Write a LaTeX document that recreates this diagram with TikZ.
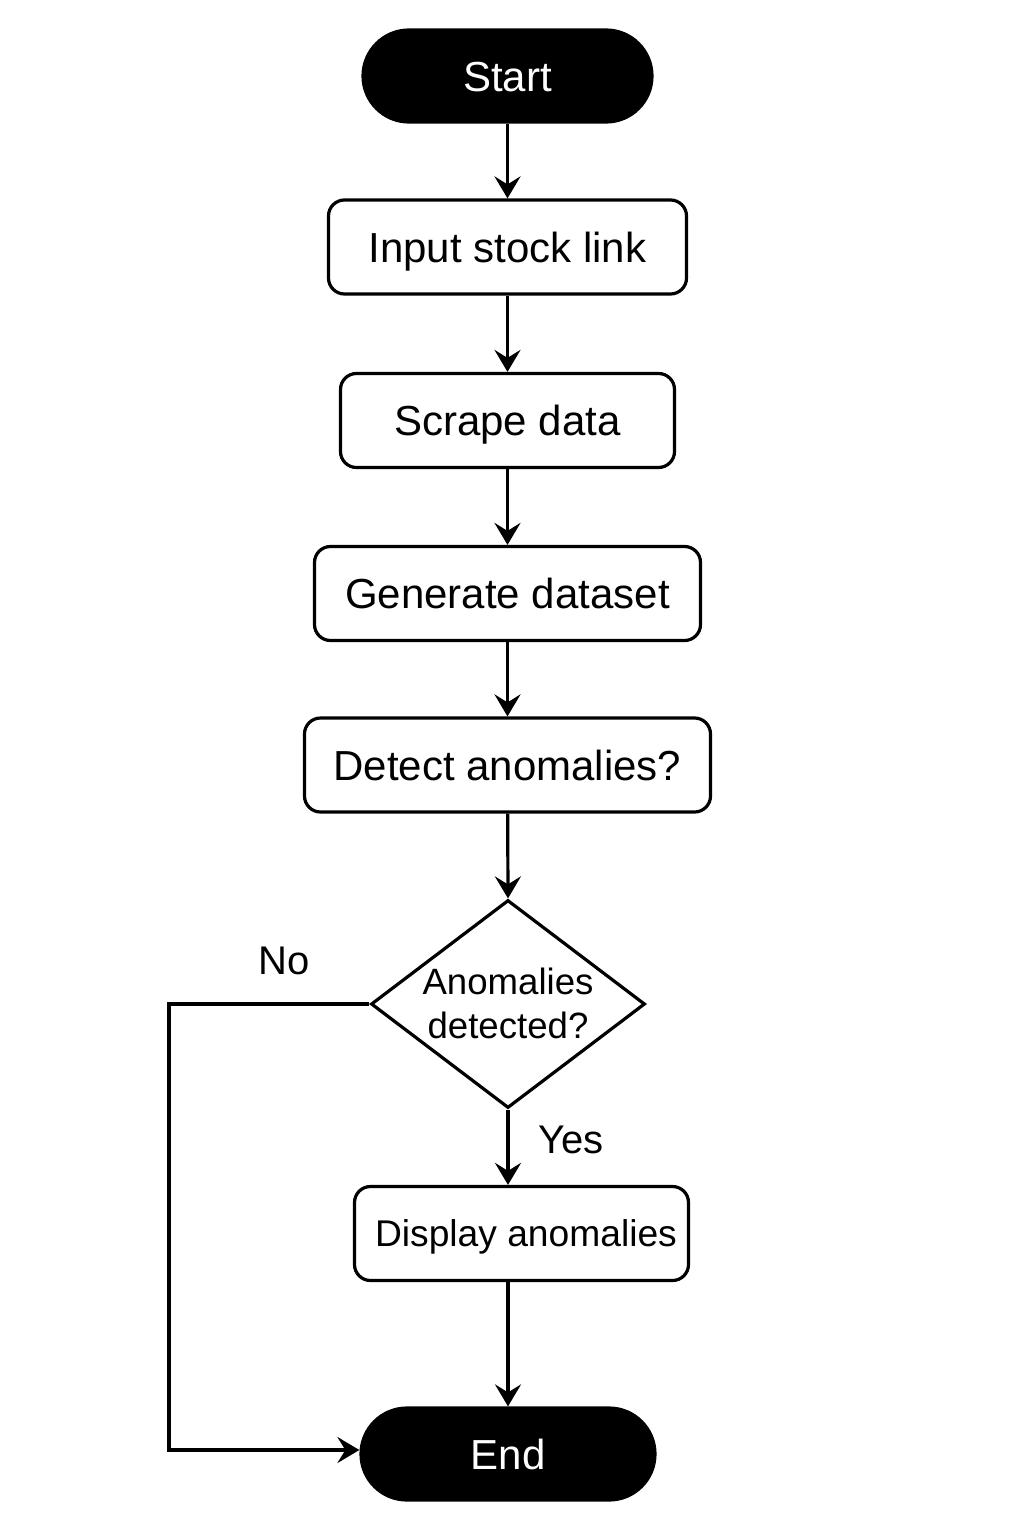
\documentclass[tikz,border=0pt]{standalone}
\usepackage{fontspec}
\setmainfont{Liberation Sans}
\usetikzlibrary{arrows.meta,shapes.geometric}
\begin{document}
\begin{tikzpicture}[x=0.5pt,y=-0.5pt,
  every node/.style={font=\fontsize{21pt}{25pt}\selectfont},
  terminal/.style={draw=black,fill=black,text=white,line width=1.6pt,rounded corners=23pt,minimum height=46pt,inner sep=0pt,text height=15pt,text depth=0pt},
  procbox/.style={draw=black,fill=white,line width=1.6pt,rounded corners=8pt,minimum height=47pt,inner sep=0pt,text height=15pt,text depth=0pt},
  decision/.style={draw=black,line width=1.6pt,diamond,minimum width=137pt,minimum height=104pt,inner sep=0pt},
  flow/.style={line width=1.6pt,-{Stealth[length=11pt,width=13pt,inset=4pt]}},
  branch/.style={font=\fontsize{20pt}{24pt}\selectfont}
]
\useasboundingbox (0,0) rectangle (1024,1536);
\fill[white] (0,0) rectangle (1024,1536);

\node[terminal,minimum width=144.5pt] (start) at (507.5,76) {Start};
\node[procbox,minimum width=179pt] (input) at (507.5,247) {Input stock link};
\node[procbox,minimum width=167pt] (scrape) at (507.5,420.5) {Scrape data};
\node[procbox,minimum width=193pt] (gen) at (507.5,593.5) {Generate dataset};
\node[procbox,minimum width=203pt] (detect) at (507.5,765) {Detect anomalies?};
\node[decision] (dec) at (508,1004) {};
\node[font=\fontsize{18.3pt}{22pt}\selectfont,align=center] (dectext) at (508,1003) {Anomalies\\detected?};
\node[procbox,minimum width=167pt,font=\fontsize{18.6pt}{22pt}\selectfont,text height=13.3pt] (disp) at (521.5,1233.5) {\hspace*{4.5pt}Display anomalies};
\node[terminal,minimum width=147pt] (end) at (508,1454) {End};

\node[branch] (no) at (284,961) {No};
\node[branch] (yes) at (571,1140) {Yes};

\draw[flow] (start) -- (input);
\draw[flow] (input) -- (scrape);
\draw[flow] (scrape) -- (gen);
\draw[flow] (gen) -- (detect);
\draw[flow] (detect) -- (dec.north);
\draw[flow] (dec.south) -- (dec.south |- disp.north);
\draw[flow] (end.north |- disp.south) -- (end.north);
\draw[flow] (dec.west) -- (169,1004) -- (169,1450) -- (end.west |- 0,1450);
\end{tikzpicture}
\end{document}
